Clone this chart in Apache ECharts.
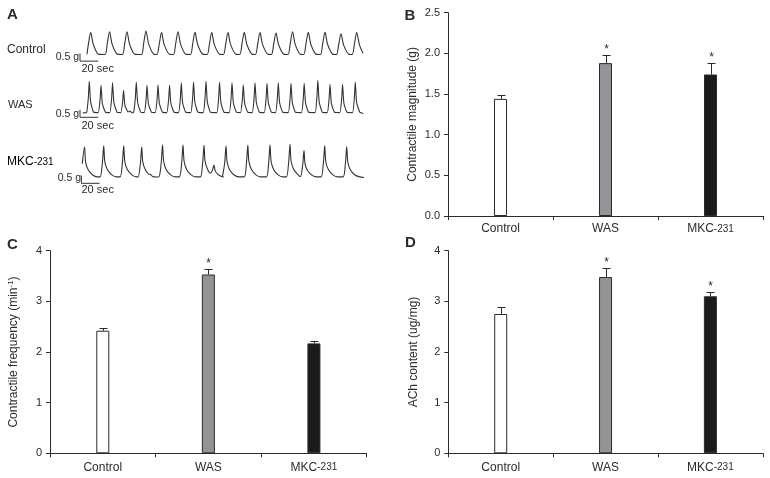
<!DOCTYPE html>
<html><head><meta charset="utf-8">
<script src="https://cdn.jsdelivr.net/npm/echarts@6/dist/echarts.min.js"></script>
<style>html,body{margin:0;padding:0;background:#fff}#c{width:770px;height:478px}</style>
</head><body><div id="c"></div>
<script>
// ---------- data ----------
const categories = ['Control', 'WAS', 'MKC-231'];
const magnitude = [1.44, 1.88, 1.74];
const magnitudeErr = [0.05, 0.10, 0.14];
const magnitudeSig = [0, 1, 1];
const frequency = [2.42, 3.53, 2.17];
const frequencyErr = [0.06, 0.10, 0.04];
const frequencySig = [0, 1, 0];
const achContent = [2.75, 3.48, 3.10];
const achErr = [0.13, 0.17, 0.09];
const achSig = [0, 1, 1];
const magnitudeAxis = { min: 0, max: 2.5, interval: 0.5, decimals: 1 };
const countAxis = { min: 0, max: 4, interval: 1, decimals: 0 };
const traceLabels = ['Control', 'WAS', 'MKC-231'];
const scaleBarSec = 20;
const scaleBarG = 0.5;
// recorded traces: [time (sec), tension above baseline (g)]
const controlTrace = [
[7.7,0.05],[9.3,0.73],[11.8,1.46],[14.8,0.66],[20.8,0.04],
[27.5,0.03],[30,0.76],[32.5,1.52],[35.5,0.68],[41.5,0.04],
[46.7,0.03],[49.2,0.76],[51.7,1.52],[54.7,0.68],[60.7,0.04],
[67.6,0.03],[70.1,0.79],[72.6,1.57],[75.6,0.71],[81.6,0.04],
[84.7,0.03],[87.2,0.73],[89.7,1.46],[92.7,0.66],[98.7,0.04],
[102.8,0.03],[105.3,0.76],[107.8,1.52],[110.8,0.68],[116.8,0.04],
[121.5,0.03],[124,0.74],[126.5,1.48],[129.5,0.67],[135.5,0.04],
[139.9,0.03],[142.4,0.73],[144.9,1.46],[147.9,0.66],[153.9,0.04],
[157.8,0.03],[160.3,0.73],[162.8,1.46],[165.8,0.66],[171.8,0.04],
[175.7,0.03],[178.2,0.74],[180.7,1.48],[183.7,0.67],[189.7,0.04],
[193,0.03],[195.5,0.73],[198,1.46],[201,0.66],[207,0.04],
[210.6,0.03],[213.1,0.72],[215.6,1.44],[218.6,0.65],[224.6,0.04],
[228.8,0.03],[231.3,0.76],[233.8,1.52],[236.8,0.68],[242.8,0.04],
[246.1,0.03],[248.6,0.74],[251.1,1.48],[254.1,0.67],[260.1,0.04],
[264.5,0.03],[267,0.74],[269.5,1.48],[272.5,0.67],[278.5,0.04],
[282.1,0.03],[284.6,0.70],[287.1,1.39],[290.1,0.63],[296.1,0.04],
[299.4,0.03],[301.9,0.73],[304.4,1.46],[307.4,0.66],[311.3,0.12]
];
const wasTrace = [
[3,0.04],
[7.2,0.06],[9.2,1.05],[10.2,2.10],[11.7,0.74],[15.2,0.08],
[20.1,0.06],[22.1,0.92],[23.1,1.84],[24.6,0.64],[28.1,0.08],
[32.8,0.06],[34.8,1.00],[35.8,2.01],[37.3,0.70],[40.8,0.08],
[44.9,0.06],[46.9,0.76],[47.9,1.52],[49.4,0.53],[52.9,0.10],[55,0.16],[57,0.05],
[58.9,0.06],[60.9,1.03],[61.9,2.06],[63.4,0.72],[66.9,0.08],
[70.7,0.06],[72.7,0.92],[73.7,1.84],[75.2,0.64],[78.7,0.08],
[82.8,0.06],[84.8,0.94],[85.8,1.88],[87.3,0.66],[90.8,0.08],
[95.5,0.06],[97.5,0.92],[98.5,1.84],[100,0.64],[103.5,0.08],
[108.4,0.06],[110.4,1.00],[111.4,2.01],[112.9,0.70],[116.4,0.08],
[121.9,0.06],[123.9,1.03],[124.9,2.06],[126.4,0.72],[129.9,0.08],
[135.6,0.06],[137.6,1.05],[138.6,2.10],[140.1,0.74],[143.6,0.08],
[150.5,0.06],[152.5,1.02],[153.5,2.04],[155,0.71],[158.5,0.08],
[164.2,0.06],[166.2,1.00],[167.2,2.01],[168.7,0.70],[172.2,0.08],
[176.6,0.06],[178.6,0.94],[179.6,1.88],[181.1,0.66],[184.6,0.08],
[189.5,0.06],[191.5,1.00],[192.5,2.01],[194,0.70],[197.5,0.08],
[202.7,0.06],[204.7,0.98],[205.7,1.97],[207.2,0.69],[210.7,0.08],
[215.1,0.06],[217.1,1.00],[218.1,2.01],[219.6,0.70],[223.1,0.08],
[229.1,0.06],[231.1,0.98],[232.1,1.97],[233.6,0.69],[237.1,0.08],
[243.6,0.06],[245.6,0.98],[246.6,1.97],[248.1,0.69],[251.6,0.08],
[258.6,0.06],[260.6,1.08],[261.6,2.17],[263.1,0.76],[266.6,0.08],
[272,0.06],[274,0.95],[275,1.91],[276.5,0.67],[280,0.08],
[285.8,0.06],[287.8,0.95],[288.8,1.91],[290.3,0.67],[293.8,0.08],
[299.8,0.06],[301.8,1.03],[302.8,2.06],[304.3,0.72],[307.8,0.08],
[311.6,0.0]
];
const mkcTrace = [
[2.5,0.90],[5,1.99],[6.2,1.00],[9,0.50],[14,0.16],[19,0.04],
[22.1,0.04],[24.6,0.94],[26.1,2.08],[27.3,1.04],[30.1,0.52],[35.1,0.17],[40.1,0.04],
[44.1,0.04],[46.6,0.94],[48.1,2.08],[49.3,1.04],[52.1,0.52],[57.1,0.17],[62.1,0.04],
[63.9,0.04],[66.4,0.90],[67.9,1.99],[69.1,1.00],[71.9,0.50],[75.5,0.22],[77.5,0.20],[80,0.06],[83.9,0.03],
[86.8,0.04],[89.3,0.95],[90.8,2.12],[92,1.06],[94.8,0.53],[99.8,0.17],[104.8,0.04],
[109.3,0.04],[111.8,0.95],[113.3,2.12],[114.5,1.06],[117.3,0.53],[122.3,0.17],[127.3,0.04],
[132.4,0.04],[134.9,0.95],[136.4,2.10],[137.6,1.05],[140.4,0.52],[143.5,0.28],
[145.5,0.45],[147.4,0.82],[148.6,0.45],[151.4,0.22],[155,0.08],[158,0.04],
[156.6,0.04],[159.1,0.92],[160.6,2.05],[161.8,1.02],[164.6,0.51],[169.6,0.16],[174.6,0.04],
[180.6,0.04],[183.1,0.95],[184.6,2.10],[185.8,1.05],[188.6,0.52],[193.6,0.17],[198.6,0.04],
[205,0.04],[207.5,0.95],[209,2.12],[210.2,1.06],[213,0.53],[218,0.17],[223,0.04],
[227,0.04],[229.5,0.98],[231,2.17],[232.2,1.08],[235,0.54],[240,0.17],
[242.4,0.06],[244.9,0.79],[246.4,1.76],[247.6,0.88],[250.4,0.44],[255.4,0.14],[260.4,0.04],
[265.2,0.04],[267.7,0.93],[269.2,2.07],[270.4,1.03],[273.2,0.52],[278.2,0.17],[283.2,0.04],
[289.4,0.04],[291.9,0.90],[293.4,2.01],[294.6,1.00],[297.4,0.50],[302.4,0.16],[307.4,0.04],
[312.4,0.0]
];

// ---------- chart ----------
const FONT = '"Liberation Sans", Arial, sans-serif';
const INK = '#2b2b2b';
const barColors = ['#ffffff', '#929497', '#1b1b1b'];
const chart = echarts.init(document.getElementById('c'), null, { renderer: 'canvas' });

const catRich = {
  a: { fontSize: 12, fontFamily: FONT, color: INK },
  b: { fontSize: 10, fontFamily: '"Liberation Sans Narrow", ' + FONT, color: INK }
};
function catFormatter(v) {
  const m = /^(\D+)(-\d+)$/.exec(v);
  return m ? '{a|' + m[1] + '}{b|' + m[2] + '}' : '{a|' + v + '}';
}

function xCat(gridIndex, margin) {
  return {
    type: 'category', gridIndex, data: categories,
    axisLine: { lineStyle: { color: INK, width: 1 } },
    axisTick: { show: true, length: 4, lineStyle: { color: INK } },
    axisLabel: { margin, interval: 0, hideOverlap: false, formatter: catFormatter, rich: catRich },
    splitLine: { show: false }
  };
}
function yVal(gridIndex, ax, name, rich) {
  return {
    type: 'value', gridIndex, min: ax.min, max: ax.max, interval: ax.interval,
    axisLine: { show: true, lineStyle: { color: INK, width: 1 } },
    axisTick: { show: true, length: 4, lineStyle: { color: INK } },
    axisLabel: { fontSize: 11, fontFamily: FONT, color: INK, margin: 8,
      formatter: v => v.toFixed(ax.decimals) },
    splitLine: { show: false },
    name, nameLocation: 'middle', nameGap: 29, nameRotate: 90,
    nameTextStyle: rich ? { rich } : { fontSize: 12, fontFamily: FONT, color: INK }
  };
}
function barSeries(idx, values) {
  return {
    type: 'bar', xAxisIndex: idx, yAxisIndex: idx, barWidth: 13,
    data: values.map((v, i) => ({ value: v, itemStyle: { color: barColors[i] } })),
    itemStyle: { borderColor: INK, borderWidth: 1 },
    silent: true
  };
}
function errSeries(idx, values, errs, sigs) {
  return {
    type: 'custom', xAxisIndex: idx, yAxisIndex: idx, z: 5, silent: true,
    encode: { x: 0, y: 1 },
    data: values.map((v, i) => [i, v, errs[i], sigs[i]]),
    renderItem: function (params, api) {
      const i = api.value(0), v = api.value(1), e = api.value(2), s = api.value(3);
      const p0 = api.coord([i, v]);
      const p1 = api.coord([i, v + e]);
      const x = Math.round(p0[0]) + 0.5;
      const yt = Math.round(p1[1]) + 0.5;
      const ch = [
        { type: 'line', shape: { x1: x, y1: p0[1], x2: x, y2: yt }, style: { stroke: INK, lineWidth: 1 } },
        { type: 'line', shape: { x1: x - 4, y1: yt, x2: x + 4, y2: yt }, style: { stroke: INK, lineWidth: 1 } }
      ];
      if (s) ch.push({ type: 'text', x: x, y: yt, style: { text: '*', fill: INK, font: '12px ' + FONT, align: 'center', verticalAlign: 'bottom' } });
      return { type: 'group', children: ch };
    }
  };
}

// trace grids: 1 g spans 15.3 px, 20 s spans ~18 px
const traceTops = [16.75, 75.25, 139.25];
const traceGrids = traceTops.map(t => ({ left: 80, width: 290, top: t, height: 53.55 }));
const traceX = traceTops.map((t, k) => ({ type: 'value', gridIndex: 3 + k, min: 0, max: 319, show: false }));
const traceY = traceTops.map((t, k) => ({ type: 'value', gridIndex: 3 + k, min: -1, max: 2.5, show: false }));
const traces = [controlTrace, wasTrace, mkcTrace];
const barOrigins = [[0, -0.4], [0, -0.25], [1.5, -0.38]];
const traceSeries = [];
traces.forEach((tr, k) => {
  traceSeries.push({
    type: 'line', xAxisIndex: 3 + k, yAxisIndex: 3 + k, data: tr,
    symbol: 'none', smooth: k === 1 ? 0.15 : 0.3, silent: true,
    lineStyle: { color: '#333', width: 1.1 }
  });
  const o = barOrigins[k];
  traceSeries.push({
    type: 'line', xAxisIndex: 3 + k, yAxisIndex: 3 + k,
    data: [[o[0], o[1] + scaleBarG], [o[0], o[1]], [o[0] + scaleBarSec, o[1]]],
    symbol: 'none', silent: true, lineStyle: { color: '#333', width: 1 }
  });
});

function txt(text, x, y, size, opts) {
  return Object.assign({ type: 'text', x, y, style: Object.assign({ text, fill: INK, font: size + 'px ' + FONT, align: 'left', verticalAlign: 'middle' }, opts || {}) });
}
const graphics = [
  txt('A', 7, 14.5, 15, { font: 'bold 15px ' + FONT }),
  txt('B', 404.5, 16, 15, { font: 'bold 15px ' + FONT }),
  txt('C', 7, 244.5, 15, { font: 'bold 15px ' + FONT }),
  txt('D', 405, 243, 15, { font: 'bold 15px ' + FONT }),
  txt(traceLabels[0], 7, 50, 12),
  txt(traceLabels[1], 8, 105, 11),
  { type: 'text', x: 7, y: 162, style: { text: '{a|MKC}{b|-231}', rich: catRich, align: 'left', verticalAlign: 'middle' } },
  txt('0.5 g', 79, 57.5, 10.5, { align: 'right' }),
  txt('0.5 g', 79, 114.5, 10.5, { align: 'right' }),
  txt('0.5 g', 81, 178, 10.5, { align: 'right' }),
  txt('20 sec', 81.5, 69, 11),
  txt('20 sec', 81.5, 126, 11),
  txt('20 sec', 81.5, 190, 11)
];

const option = {
  animation: false,
  backgroundColor: '#fff',
  textStyle: { fontFamily: FONT },
  grid: [
    { left: 448, top: 12.7, width: 315, height: 203.3 },
    { left: 50, top: 250.7, width: 316.7, height: 202.6 },
    { left: 448.3, top: 250.7, width: 314.5, height: 202.6 }
  ].concat(traceGrids),
  xAxis: [xCat(0, 7), xCat(1, 8), xCat(2, 8)].concat(traceX),
  yAxis: [
    yVal(0, magnitudeAxis, 'Contractile magnitude (g)'),
    yVal(1, countAxis, '{a|Contractile frequency (min}{s|-1}{a|)}', {
      a: { fontSize: 12, fontFamily: FONT, color: INK, lineHeight: 14 },
      s: { fontSize: 8, fontFamily: FONT, color: INK, verticalAlign: 'top', lineHeight: 14 }
    }),
    yVal(2, countAxis, 'ACh content (ug/mg)')
  ].concat(traceY),
  series: [
    barSeries(0, magnitude), errSeries(0, magnitude, magnitudeErr, magnitudeSig),
    barSeries(1, frequency), errSeries(1, frequency, frequencyErr, frequencySig),
    barSeries(2, achContent), errSeries(2, achContent, achErr, achSig)
  ].concat(traceSeries),
  graphic: graphics
};
chart.setOption(option);
</script>
</body></html>
